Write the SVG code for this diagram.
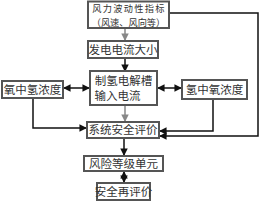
<svg xmlns="http://www.w3.org/2000/svg" width="260" height="203" viewBox="0 0 260 203">
<style>
.box{fill:#fff;stroke:#555;stroke-width:2}
.t{font-family:"Noto Sans CJK SC","Noto Sans",sans-serif;font-size:11.5px;fill:#333;text-anchor:middle}
.s{font-size:9.2px}
.c{fill:none;stroke:#111;stroke-width:1.5}
.g{fill:none;stroke:#888;stroke-width:1.5}
</style>
<defs>
<marker id="a" viewBox="0 0 8 8" refX="7" refY="4" markerWidth="5" markerHeight="5" orient="auto-start-reverse"><path d="M0,0L8,4L0,8z" fill="#111"/></marker>
<marker id="ag" viewBox="0 0 8 8" refX="7" refY="4" markerWidth="5" markerHeight="5" orient="auto"><path d="M0,0L8,4L0,8z" fill="#888"/></marker>
</defs>
<rect width="260" height="203" fill="#fff"/>
<g id="connectors">
<path class="g" d="M125,28V40" marker-end="url(#ag)"/>
<path class="c" d="M125,58V71" marker-end="url(#a)"/>
<path class="c" d="M64,88H89" marker-start="url(#a)" marker-end="url(#a)"/>
<path class="c" d="M158,88H181" marker-start="url(#a)" marker-end="url(#a)"/>
<path class="g" d="M125,105V121" marker-end="url(#ag)"/>
<path class="c" d="M33,99V128H86" marker-end="url(#a)"/>
<path class="c" d="M213,100V131H160" marker-end="url(#a)"/>
<path class="c" d="M169,13H258V136H160" marker-end="url(#a)"/>
<path class="c" d="M124,138V155" marker-end="url(#a)"/>
<path class="c" d="M124,172V182" marker-start="url(#a)" marker-end="url(#a)"/>
</g>
<g id="n1"><rect class="box" x="88" y="1.5" width="81" height="26.5"/><text class="t s"><tspan x="129" y="12" letter-spacing="1.3">风力波动性指标</tspan><tspan x="128.5" y="25.5">（风速、风向等）</tspan></text></g>
<g id="n2"><rect class="box" x="88" y="41" width="70" height="17"/><text class="t" x="123" y="53.5">发电电流大小</text></g>
<g id="n3"><rect class="box" x="90" y="71" width="67" height="34"/><text class="t"><tspan x="123.5" y="85">制氢电解槽</tspan><tspan x="117.5" y="100">输入电流</tspan></text></g>
<g id="n4"><rect class="box" x="2" y="81" width="61" height="17"/><text class="t" x="32.5" y="93.5">氧中氢浓度</text></g>
<g id="n5"><rect class="box" x="182" y="80" width="65" height="19"/><text class="t" x="214.5" y="93.5">氢中氧浓度</text></g>
<g id="n6"><rect class="box" x="87" y="122" width="72" height="16"/><text class="t" x="123" y="134">系统安全评价</text></g>
<g id="n7"><rect class="box" x="84" y="156" width="79" height="15"/><text class="t" x="123.5" y="167.5">风险等级单元</text></g>
<g id="n8"><rect class="box" x="97" y="183" width="53" height="17"/><text class="t" x="123.5" y="195.5">安全再评价</text></g>
</svg>
